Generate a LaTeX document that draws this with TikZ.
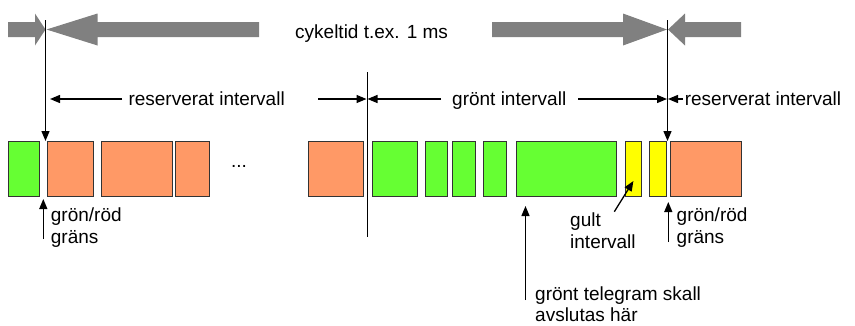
\documentclass[tikz,border=0pt]{standalone}
\usepackage{fontspec}
\setmainfont{Liberation Sans}
\usepackage{xcolor}
\usepackage{tikz}
\usetikzlibrary{arrows.meta,calc}

\definecolor{cGreen}{RGB}{102,255,51}
\definecolor{cOrange}{RGB}{255,153,102}
\definecolor{cYellow}{RGB}{255,255,0}
\definecolor{cBand}{RGB}{128,128,128}

\tikzstyle{tsText} = [
    text=black,
    font=\fontsize{19}{21.7}\selectfont,
    inner sep=0pt
]
\tikzstyle{tsLabel} = [
    tsText,
    align=left,
    anchor=base west
]
\tikzstyle{tsBox} = [
    rectangle,
    draw=black!80,
    line width=1pt,
    minimum height=55pt,
    inner sep=0pt
]
\tikzstyle{tsGreen} = [tsBox, fill=cGreen]
\tikzstyle{tsOrange} = [tsBox, fill=cOrange]
\tikzstyle{tsYellow} = [tsBox, fill=cYellow]
\tikzstyle{tsLine} = [draw=black, line width=1.3pt]
\tikzstyle{tsPtr} = [
    tsLine,
    -{Triangle[length=10pt,width=8pt]}
]

\begin{document}
\begin{tikzpicture}[x=1pt, y=-1pt]
        \useasboundingbox (0,0) rectangle (855,325);

        % cycle time bands
        \fill[cBand] (8,22) -- (35,22) -- (35,13.5) -- (45.5,29.5)
            -- (35,45.5) -- (35,37) -- (8,37) -- cycle;
        \fill[cBand] (259,22) -- (97.5,22) -- (97.5,13.5) -- (46.5,29.5)
            -- (97.5,45.5) -- (97.5,37) -- (259,37) -- cycle;
        \fill[cBand] (492,22) -- (623,22) -- (623,13.5) -- (667,29.5)
            -- (623,45.5) -- (623,37) -- (492,37) -- cycle;
        \fill[cBand] (741,22) -- (685,22) -- (685,13.5) -- (668,29.5)
            -- (685,45.5) -- (685,37) -- (741,37) -- cycle;
        \node[tsText, anchor=base west] (cycle) at (295,38.3) {cykeltid t.ex. 1 ms};

        % telegrams
        \node[tsGreen,  minimum width=31pt]  (greenA)  at (23.8,169)  { };
        \node[tsOrange, minimum width=45.7pt] (orangeA) at (70.2,169)  { };
        \node[tsOrange, minimum width=71pt]  (orangeB) at (136.8,169) { };
        \node[tsOrange, minimum width=33.6pt] (orangeC) at (192.5,169) { };
        \node[tsText] (dots) at (239,166) {...};
        \node[tsOrange, minimum width=54.8pt] (orangeD) at (336.1,169) { };
        \node[tsGreen,  minimum width=44.3pt] (greenB)  at (395,169)   { };
        \node[tsGreen,  minimum width=22pt]  (greenC)  at (436.5,169) { };
        \node[tsGreen,  minimum width=22.3pt] (greenD)  at (464,169)   { };
        \node[tsGreen,  minimum width=22.7pt] (greenE)  at (494.8,169) { };
        \node[tsGreen,  minimum width=100.2pt] (greenF) at (566.4,169) { };
        \node[tsYellow, minimum width=16.6pt] (yellowA) at (633.4,169) { };
        \node[tsYellow, minimum width=16.6pt] (yellowB) at (658.2,169) { };
        \node[tsOrange, minimum width=71pt]  (orangeE) at (706,169)   { };

        % boundaries
        \coordinate (bndLtop) at (45.5,20);
        \coordinate (bndL)    at (45.5,141);
        \coordinate (bndRtop) at (667.5,20);
        \coordinate (bndR)    at (667.5,141);
        \coordinate (midTop)  at (367,72);
        \coordinate (midBot)  at (367,237);
        \draw[tsPtr]  (bndLtop) -- (bndL);
        \draw[tsPtr]  (bndRtop) -- (bndR);
        \draw[tsLine, line width=1pt] (midTop) -- (midBot);

        % intervals
        \node[tsLabel] (resA)  at (128.3,105.6) {reserverat intervall};
        \node[tsLabel] (green) at (452,105.6)   {grönt intervall};
        \node[tsLabel] (resB)  at (684.6,105.6) {reserverat intervall};
        \coordinate (dA0) at (122,99);   \coordinate (dA1) at (50,99);
        \coordinate (dB0) at (318,99);   \coordinate (dB1) at (366.5,99);
        \coordinate (dC0) at (441,99);   \coordinate (dC1) at (367.5,99);
        \coordinate (dD0) at (578,99);   \coordinate (dD1) at (667,99);
        \coordinate (dE0) at (683,99);   \coordinate (dE1) at (668,99);
        \draw[tsPtr] (dA0) -- (dA1);
        \draw[tsPtr] (dB0) -- (dB1);
        \draw[tsPtr] (dC0) -- (dC1);
        \draw[tsPtr] (dD0) -- (dD1);
        \draw[tsPtr] (dE0) -- (dE1);

        % notes below (base = last line)
        \node[tsLabel] (grLa) at (50.7,243.5)  {grön/röd\\gräns};
        \node[tsLabel] (grLb) at (676.5,243.5) {grön/röd\\gräns};
        \node[tsLabel] (gult) at (570,248.3)   {gult\\intervall};
        \node[tsLabel] (tele) at (535,321.7)   {grönt telegram skall\\avslutas här};
        \coordinate (grLaFoot) at (43.3,239);
        \coordinate (grLbFoot) at (668.3,242);
        \coordinate (gultFoot) at (614.3,211.7);
        \coordinate (teleFoot) at (525.5,300);
        \draw[tsPtr] (grLaFoot) -- ($(grLaFoot |- greenA.south)+(0,2)$);
        \draw[tsPtr] (grLbFoot) -- ($(grLbFoot |- yellowB.south)+(0,5)$);
        \draw[tsPtr] (gultFoot) -- ($(yellowA.center)+(0,12)$);
        \draw[tsPtr] (teleFoot) -- ($(teleFoot |- greenF.south)+(0,9)$);
\end{tikzpicture}
\end{document}
